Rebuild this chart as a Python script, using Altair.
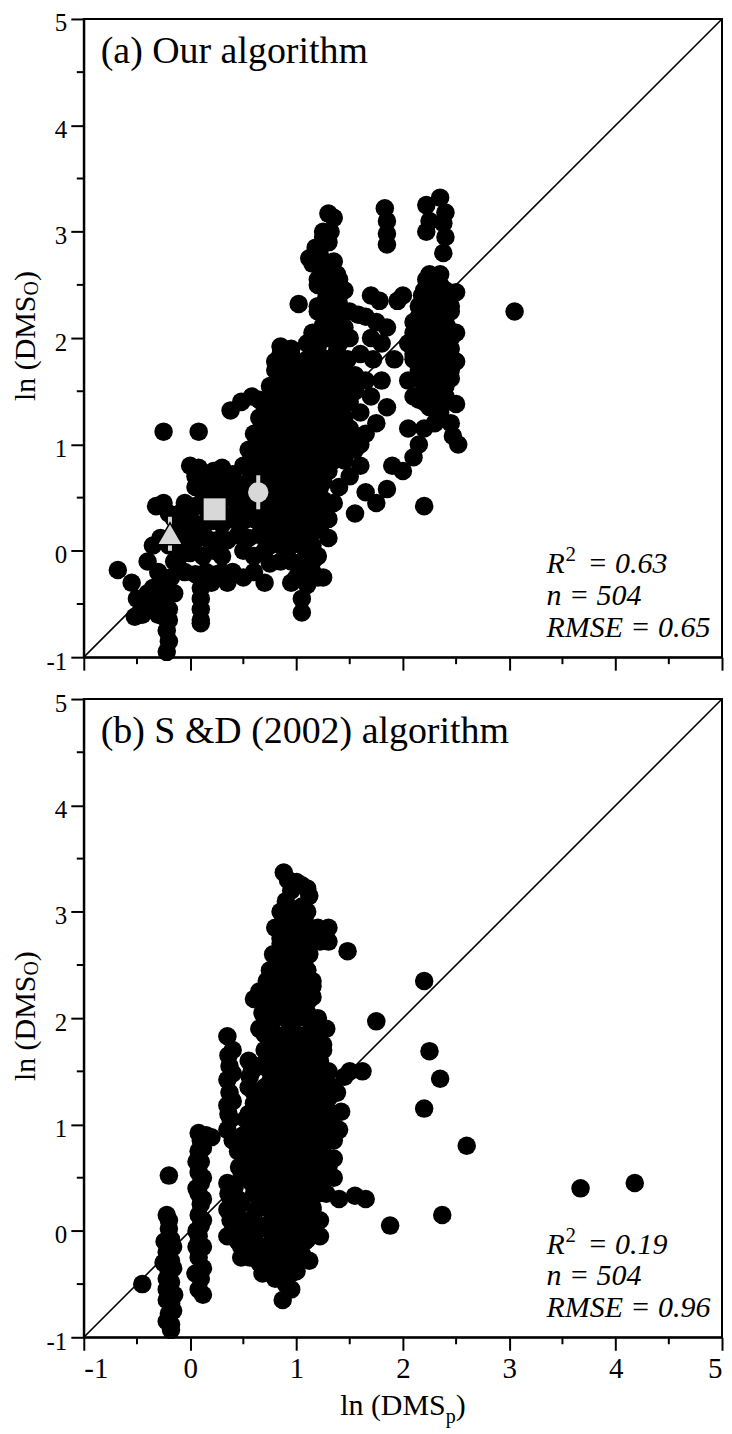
import altair as alt
import pandas as pd

FONT = "Liberation Serif"

# ---------------- data ----------------
A_POINTS = [
    # far left
    (-0.68, -0.18), (-0.55, -0.3), (-0.5, -0.45), (-0.52, -0.62), (-0.45, -0.5), (-0.4, -0.4),
    (-0.35, -0.55), (-0.3, -0.6), (-0.25, -0.45), (-0.2, -0.55), (-0.2, -0.65), (-0.22, -0.75),
    (-0.2, -0.85), (-0.22, -0.95), (-0.15, -0.4), (-0.18, -0.25), (-0.3, -0.2), (-0.4, -0.1),
    (-0.35, 0.05), (-0.28, 0.12), (-0.2, 0.05), (-0.1, -0.05), (-0.32, 0.42), (-0.25, 0.45),
    (-0.2, 0.35), (-0.15, 0.3), (-0.12, 0.2), (-0.25, 1.12), (0.08, 1.12),
    (-0.45, -0.6), (-0.38, -0.48), (-0.3, -0.5), (-0.25, -0.62), (-0.28, -0.3), (-0.35, -0.35),
    (-0.22, -0.3), (-0.15, -0.1), (-0.05, 0.0), (-0.1, 0.35), (-0.05, 0.25), (0.0, 0.15),
    # left cluster
    (0.0, 0.8), (0.08, 0.78), (0.15, 0.72), (0.22, 0.75), (0.05, 0.6), (0.12, 0.55), (0.25, 0.6),
    (-0.05, 0.45), (0.05, 0.42), (0.15, 0.4), (0.28, 0.45), (0.0, 0.3), (0.1, 0.25), (0.2, 0.28),
    (0.3, 0.25), (-0.08, 0.15), (0.05, 0.1), (0.15, 0.12), (0.25, 0.1), (0.0, -0.02), (0.12, -0.05),
    (0.22, 0.0), (0.3, -0.05), (-0.05, -0.2), (0.05, -0.22), (0.15, -0.2), (0.25, -0.22), (0.1, -0.35),
    (0.1, -0.45), (0.1, -0.55), (0.1, -0.65), (0.1, -0.68), (0.2, -0.3),
    (0.35, 0.1), (0.3, 0.35), (0.35, 0.65), (0.2, 0.5), (0.12, 0.65), (0.05, 0.7),
    # left of centre
    (0.3, 0.78), (0.4, 0.72), (0.45, 0.62), (0.5, 0.55), (0.38, 0.5), (0.45, 0.42), (0.55, 0.4),
    (0.6, 0.3), (0.5, 0.28), (0.4, 0.3), (0.45, 0.15), (0.55, 0.12), (0.65, 0.15), (0.5, 0.0),
    (0.6, -0.05), (0.7, 0.0), (0.4, -0.2), (0.5, -0.25), (0.6, -0.2), (0.7, -0.3), (0.75, -0.12),
    (0.35, -0.3), (0.3, -0.2), (0.65, 0.55), (0.7, 0.4),
    (0.38, 1.32), (0.48, 1.4), (0.58, 1.45), (0.65, 1.42), (0.72, 1.3),
    # central mass
    (0.85, 1.92), (0.95, 1.9), (0.8, 1.78), (0.92, 1.75), (1.05, 1.72), (0.88, 1.62), (1.0, 1.58),
    (1.1, 1.6), (0.78, 1.5), (0.9, 1.48), (1.02, 1.45), (1.15, 1.45), (0.7, 1.35), (0.82, 1.38),
    (0.95, 1.32), (1.08, 1.3), (1.2, 1.3), (0.75, 1.2), (0.88, 1.2), (1.0, 1.18), (1.12, 1.15),
    (1.25, 1.18), (0.65, 1.08), (0.78, 1.05), (0.9, 1.05), (1.02, 1.02), (1.15, 1.0), (1.28, 1.0),
    (0.6, 0.95), (0.72, 0.92), (0.85, 0.9), (0.98, 0.88), (1.1, 0.88), (1.22, 0.85), (0.55, 0.82),
    (0.68, 0.8), (0.8, 0.78), (0.92, 0.75), (1.05, 0.75), (1.18, 0.72), (1.3, 0.75), (0.6, 0.68),
    (0.72, 0.65), (0.85, 0.62), (0.98, 0.62), (1.1, 0.6), (1.22, 0.6), (0.75, 0.5), (0.88, 0.5),
    (1.0, 0.48), (1.12, 0.45), (1.25, 0.48), (0.8, 0.38), (0.92, 0.35), (1.05, 0.32), (1.18, 0.3),
    (0.75, 0.25), (0.88, 0.22), (1.0, 0.18), (1.12, 0.15), (1.22, 0.2), (0.82, 0.08), (0.95, 0.05),
    (1.08, 0.02), (1.2, -0.05), (0.9, -0.08), (1.0, -0.12), (1.15, -0.2), (1.25, -0.25), (1.1, -0.32),
    (0.95, -0.3), (1.05, -0.45), (1.3, 0.3), (1.35, 0.85), (1.05, -0.58), (1.02, 2.32),
    (0.85, 1.85), (0.95, 1.85), (0.8, 1.7), (0.9, 1.7), (1.0, 1.7), (1.1, 1.7),
    (0.75, 1.55), (0.85, 1.55), (0.95, 1.55), (1.05, 1.55), (1.15, 1.55),
    (0.7, 1.4), (0.8, 1.4), (0.9, 1.4), (1.0, 1.4), (1.1, 1.4), (1.2, 1.4),
    (0.65, 1.25), (0.75, 1.25), (0.85, 1.25), (0.95, 1.25), (1.05, 1.25), (1.15, 1.25), (1.25, 1.25),
    (0.6, 1.1), (0.7, 1.1), (0.8, 1.1), (0.9, 1.1), (1.0, 1.1), (1.1, 1.1), (1.2, 1.1), (1.3, 1.1),
    (0.55, 0.95), (0.65, 0.95), (0.75, 0.95), (0.85, 0.95), (0.95, 0.95), (1.05, 0.95), (1.15, 0.95),
    (1.25, 0.95), (0.5, 0.8), (0.6, 0.8), (0.7, 0.8), (0.8, 0.8), (0.9, 0.8), (1.0, 0.8), (1.1, 0.8),
    (1.2, 0.8), (1.3, 0.8), (0.55, 0.65), (0.65, 0.65), (0.75, 0.65), (0.85, 0.65), (0.95, 0.65),
    (1.05, 0.65), (1.15, 0.65), (1.25, 0.65), (0.6, 0.5), (0.7, 0.5), (0.8, 0.5), (0.9, 0.5),
    (1.0, 0.5), (1.1, 0.5), (1.2, 0.5), (0.65, 0.35), (0.75, 0.35), (0.85, 0.35), (0.95, 0.35),
    (1.05, 0.35), (1.15, 0.35), (1.25, 0.35), (0.7, 0.2), (0.8, 0.2), (0.9, 0.2), (1.0, 0.2),
    (1.1, 0.2), (1.2, 0.2), (0.75, 0.05), (0.85, 0.05), (0.95, 0.05), (1.05, 0.05), (1.15, 0.05),
    (0.85, -0.1), (0.95, -0.1), (1.05, -0.1), (1.15, -0.1), (1.0, -0.25), (1.1, -0.25), (1.2, -0.25),
    # upper column
    (1.3, 3.17), (1.35, 3.13), (1.25, 2.95), (1.3, 2.9), (1.18, 2.85), (1.12, 2.75), (1.22, 2.78),
    (1.35, 2.72), (1.25, 2.62), (1.38, 2.6), (1.2, 2.5), (1.32, 2.48), (1.45, 2.45), (1.28, 2.38),
    (1.4, 2.32), (1.2, 2.3), (1.35, 2.2), (1.5, 2.25), (1.58, 2.22), (1.25, 2.12), (1.42, 2.1),
    (1.15, 2.05), (1.3, 2.0), (1.5, 2.0), (1.2, 1.92), (1.38, 1.88), (1.48, 1.8), (1.28, 1.8),
    (1.15, 1.75), (1.35, 1.7), (1.45, 1.65), (1.22, 1.62), (1.3, 1.55), (1.42, 1.5), (1.5, 1.4),
    (1.38, 1.38), (1.25, 1.45), (1.45, 1.25), (1.5, 1.15), (1.4, 1.1), (1.35, 1.0), (1.45, 0.98),
    (1.25, 3.0), (1.32, 3.0), (1.2, 2.85), (1.15, 2.7), (1.25, 2.7), (1.2, 2.55), (1.3, 2.55),
    (1.4, 2.55), (1.3, 2.4), (1.4, 2.4), (1.2, 2.25), (1.3, 2.25), (1.4, 2.25), (1.25, 2.1),
    (1.35, 2.1), (1.45, 2.1), (1.1, 1.95), (1.2, 1.95), (1.4, 1.95), (1.1, 1.8), (1.2, 1.8),
    (1.3, 1.8), (1.4, 1.8), (1.15, 1.65), (1.25, 1.65), (1.35, 1.65), (1.55, 1.65), (1.2, 1.5),
    (1.3, 1.5), (1.4, 1.5), (1.5, 1.5), (1.3, 1.35), (1.4, 1.35), (1.35, 1.2), (1.4, 1.05),
    (1.5, 1.05),
    # column near 1.7
    (1.7, 2.4), (1.78, 2.35), (1.65, 2.2), (1.75, 2.15), (1.85, 2.1), (1.7, 2.0), (1.8, 1.95),
    (1.6, 1.85), (1.72, 1.8), (1.65, 1.6), (1.8, 1.6), (1.55, 1.5), (1.7, 1.45), (1.6, 1.3),
    (1.75, 1.2), (1.65, 1.1), (1.6, 1.0), (1.85, 1.35),
    # lower right tail
    (1.55, 0.95), (1.6, 0.8), (1.5, 0.7), (1.65, 0.55), (1.55, 0.35), (1.75, 0.45), (1.9, 0.8),
    (1.85, 0.58), (2.0, 0.75), (2.1, 0.88), (2.05, 1.15), (1.4, 0.6), (1.35, 0.45), (1.3, 0.12),
    (1.45, 0.85), (2.2, 0.42),
    # column at 1.85 top
    (1.83, 3.22), (1.85, 3.1), (1.85, 2.98), (1.85, 2.88),
    # right cluster
    (2.22, 3.25), (2.35, 3.32), (2.4, 3.18), (2.38, 3.08), (2.4, 2.95), (2.25, 3.1), (2.22, 3.0),
    (2.38, 2.8), (2.22, 2.55), (2.3, 2.58), (2.35, 2.5), (2.18, 2.4), (2.28, 2.35), (2.4, 2.38),
    (2.5, 2.43), (2.15, 2.2), (2.25, 2.2), (2.35, 2.22), (2.45, 2.25), (2.1, 2.05), (2.2, 2.05),
    (2.3, 2.1), (2.42, 2.1), (2.5, 2.05), (2.05, 1.95), (2.15, 1.9), (2.25, 1.9), (2.35, 1.95),
    (2.45, 1.9), (2.1, 1.8), (2.2, 1.78), (2.3, 1.75), (2.4, 1.8), (2.5, 1.78), (2.15, 1.65),
    (2.25, 1.62), (2.35, 1.6), (2.45, 1.62), (2.2, 1.5), (2.3, 1.48), (2.4, 1.45), (2.5, 1.38),
    (2.15, 1.42), (2.25, 1.35), (2.35, 1.3), (2.3, 1.2), (2.45, 1.2), (2.2, 1.15), (2.15, 1.0),
    (2.47, 1.08), (2.52, 1.0), (1.95, 2.35), (2.0, 2.4), (1.92, 1.8), (2.05, 1.6), (2.1, 1.45),
    (2.25, 2.6), (2.35, 2.6), (2.2, 2.45), (2.3, 2.45), (2.4, 2.45), (2.15, 2.3), (2.25, 2.3),
    (2.35, 2.3), (2.45, 2.3), (2.1, 2.15), (2.2, 2.15), (2.3, 2.15), (2.4, 2.15), (2.15, 2.0),
    (2.25, 2.0), (2.35, 2.0), (2.45, 2.0), (2.1, 1.85), (2.2, 1.85), (2.3, 1.85), (2.4, 1.85),
    (2.15, 1.7), (2.25, 1.7), (2.35, 1.7), (2.45, 1.7), (2.2, 1.55), (2.3, 1.55), (2.4, 1.55),
    (2.2, 1.4), (2.3, 1.4), (2.4, 1.4),
    (3.05, 2.25),
]

B_POINTS = [
    # column near -0.2
    (-0.2, 0.52), (-0.22, 0.15), (-0.2, 0.02), (-0.18, -0.08), (-0.2, -0.18), (-0.18, -0.28),
    (-0.2, -0.38), (-0.18, -0.48), (-0.2, -0.58), (-0.18, -0.68), (-0.2, -0.78), (-0.18, -0.88),
    (-0.18, -0.93), (-0.25, -0.3), (-0.22, -0.55), (-0.15, -0.6), (-0.24, -0.1), (-0.45, -0.5),
    (-0.22, -0.45), (-0.16, -0.75), (-0.22, -0.85), (-0.16, -0.35), (-0.22, -0.2), (-0.16, -0.15),
    (-0.2, 0.1), (-0.22, -0.65),
    # column near 0.1
    (0.08, 0.92), (0.1, 0.85), (0.08, 0.75), (0.1, 0.65), (0.08, 0.55), (0.1, 0.45), (0.08, 0.35),
    (0.1, 0.25), (0.08, 0.15), (0.1, 0.05), (0.08, -0.05), (0.12, -0.15), (0.08, -0.25),
    (0.1, -0.45), (0.08, -0.55), (0.12, -0.6), (0.05, -0.4), (0.15, 0.9), (0.2, 0.88),
    (0.12, 0.3), (0.06, 0.4), (0.12, 0.5), (0.06, 0.65), (0.12, 0.78), (0.06, 0.0), (0.12, -0.35),
    (0.06, -0.15), (0.12, 0.1),
    # column near 0.4
    (0.35, 1.83), (0.37, 1.55), (0.35, 1.42), (0.37, 1.3), (0.35, 1.18), (0.38, 1.05), (0.35, 0.95),
    (0.4, 0.85), (0.35, 0.45), (0.38, 0.3), (0.35, 0.2), (0.38, 0.1), (0.35, -0.05), (0.42, 0.42),
    (0.45, 0.75), (0.5, 0.9), (0.52, 1.05), (0.48, 0.25), (0.45, -0.1), (0.45, 0.0), (0.48, -0.25),
    (0.45, 0.12), (0.45, 0.3), (0.4, 1.7), (0.36, 1.65), (0.4, 1.48), (0.4, 1.22), (0.36, 1.1),
    (0.4, 0.0), (0.4, 0.15), (0.36, 0.35), (0.46, 0.6), (0.48, 0.5), (0.44, 0.85), (0.5, 0.7),
    (0.48, -0.15),
    # column near 0.6
    (0.55, 1.6), (0.58, 1.5), (0.55, 1.35), (0.6, 1.2), (0.55, 1.1), (0.6, 0.95), (0.58, 0.85),
    (0.62, 0.7), (0.6, 0.55), (0.58, 0.45), (0.62, 0.2), (0.6, 0.05), (0.62, -0.2), (0.65, -0.3),
    (0.58, -0.15), (0.65, 0.35), (0.56, 1.45), (0.6, 1.3), (0.56, 1.0), (0.6, 0.75), (0.56, 0.6),
    (0.6, 0.35), (0.56, 0.1), (0.6, -0.05), (0.56, -0.25),
    # central mass
    (0.88, 3.37), (0.92, 3.3), (0.95, 3.2), (1.0, 3.28), (1.05, 3.25), (1.1, 3.22), (1.12, 3.15),
    (0.9, 3.1), (0.85, 3.0), (0.95, 3.0), (1.05, 3.05), (1.1, 3.0), (1.2, 2.85), (1.22, 2.72),
    (1.15, 2.75), (0.8, 2.85), (0.85, 2.7), (0.95, 2.75), (1.02, 2.85), (0.78, 2.6), (0.88, 2.55),
    (1.0, 2.6), (0.75, 2.45), (0.72, 2.35), (0.82, 2.4), (0.92, 2.4), (1.0, 2.45), (1.1, 2.45),
    (1.15, 2.35), (0.65, 2.25), (0.7, 2.15), (0.78, 2.2), (0.88, 2.25), (0.95, 2.2), (1.05, 2.25),
    (1.15, 2.2), (0.6, 2.18), (0.68, 2.05), (0.78, 2.0), (0.9, 2.05), (1.0, 2.0), (1.1, 2.05),
    (1.2, 1.95), (1.28, 1.9), (0.65, 1.9), (0.75, 1.85), (0.85, 1.8), (0.95, 1.85), (1.05, 1.8),
    (1.15, 1.75), (1.25, 1.75), (0.7, 1.7), (0.82, 1.65), (0.92, 1.65), (1.02, 1.6), (1.12, 1.6),
    (1.22, 1.6), (0.65, 1.55), (0.75, 1.5), (0.88, 1.5), (0.98, 1.45), (1.08, 1.45), (1.18, 1.45),
    (1.3, 1.5), (0.7, 1.35), (0.8, 1.35), (0.92, 1.3), (1.02, 1.3), (1.12, 1.3), (1.22, 1.3),
    (1.35, 1.35), (0.72, 1.2), (0.85, 1.2), (0.95, 1.15), (1.05, 1.15), (1.15, 1.15), (1.25, 1.15),
    (0.68, 1.05), (0.78, 1.05), (0.9, 1.0), (1.0, 1.0), (1.1, 1.0), (1.2, 1.0), (1.3, 1.02),
    (0.7, 0.9), (0.82, 0.88), (0.92, 0.85), (1.02, 0.85), (1.12, 0.85), (1.22, 0.85), (1.35, 0.85),
    (0.72, 0.75), (0.85, 0.72), (0.95, 0.7), (1.05, 0.7), (1.15, 0.7), (1.25, 0.7), (0.7, 0.6),
    (0.8, 0.58), (0.92, 0.55), (1.02, 0.55), (1.12, 0.55), (1.22, 0.55), (0.75, 0.45), (0.88, 0.42),
    (0.98, 0.4), (1.08, 0.4), (1.18, 0.4), (1.28, 0.35), (0.72, 0.3), (0.82, 0.28), (0.95, 0.25),
    (1.05, 0.25), (1.15, 0.22), (0.78, 0.15), (0.9, 0.12), (1.0, 0.1), (1.1, 0.08), (1.22, 0.1),
    (0.75, 0.0), (0.88, -0.02), (0.98, -0.05), (1.1, -0.08), (0.7, -0.15), (0.82, -0.18),
    (0.95, -0.2), (1.05, -0.22), (0.75, -0.3), (0.88, -0.35), (1.0, -0.38), (0.8, -0.45),
    (0.9, -0.5), (0.87, -0.65), (0.95, -0.55), (1.12, -0.28), (0.68, -0.4),
    (1.3, 2.85), (1.3, 2.72), (1.38, 1.3), (1.42, 1.12), (1.4, 0.95), (1.35, 0.68), (1.3, 0.6),
    (1.35, 0.5), (1.4, 0.3), (1.22, -0.05), (1.45, 1.45),
    (0.88, 2.9), (0.98, 2.9), (1.08, 2.9), (0.85, 2.75), (0.95, 2.75), (1.05, 2.75), (1.15, 2.75),
    (0.82, 2.6), (0.92, 2.6), (1.02, 2.6), (1.12, 2.6), (0.8, 2.45), (0.9, 2.45), (1.0, 2.45),
    (1.1, 2.45), (0.75, 2.3), (0.85, 2.3), (0.95, 2.3), (1.05, 2.3), (1.15, 2.3), (0.7, 2.15),
    (0.8, 2.15), (0.9, 2.15), (1.0, 2.15), (1.1, 2.15), (0.7, 2.0), (0.8, 2.0), (0.9, 2.0),
    (1.0, 2.0), (1.1, 2.0), (1.2, 2.0), (0.7, 1.85), (0.8, 1.85), (0.9, 1.85), (1.0, 1.85),
    (1.1, 1.85), (1.2, 1.85), (0.75, 1.7), (0.85, 1.7), (0.95, 1.7), (1.05, 1.7), (1.15, 1.7),
    (1.25, 1.7), (0.7, 1.55), (0.8, 1.55), (0.9, 1.55), (1.0, 1.55), (1.1, 1.55), (1.2, 1.55),
    (0.75, 1.4), (0.85, 1.4), (0.95, 1.4), (1.05, 1.4), (1.15, 1.4), (1.25, 1.4), (0.7, 1.25),
    (0.8, 1.25), (0.9, 1.25), (1.0, 1.25), (1.1, 1.25), (1.2, 1.25), (1.3, 1.25), (0.65, 1.1),
    (0.75, 1.1), (0.85, 1.1), (0.95, 1.1), (1.05, 1.1), (1.15, 1.1), (1.25, 1.1), (1.35, 1.1),
    (0.7, 0.95), (0.8, 0.95), (0.9, 0.95), (1.0, 0.95), (1.1, 0.95), (1.2, 0.95), (1.3, 0.95),
    (0.65, 0.8), (0.75, 0.8), (0.85, 0.8), (0.95, 0.8), (1.05, 0.8), (1.15, 0.8), (1.25, 0.8),
    (0.7, 0.65), (0.8, 0.65), (0.9, 0.65), (1.0, 0.65), (1.1, 0.65), (1.2, 0.65), (1.3, 0.65),
    (0.65, 0.5), (0.75, 0.5), (0.85, 0.5), (0.95, 0.5), (1.05, 0.5), (1.15, 0.5), (1.25, 0.5),
    (0.7, 0.35), (0.8, 0.35), (0.9, 0.35), (1.0, 0.35), (1.1, 0.35), (1.2, 0.35), (0.75, 0.2),
    (0.85, 0.2), (0.95, 0.2), (1.05, 0.2), (1.15, 0.2), (0.7, 0.05), (0.8, 0.05), (0.9, 0.05),
    (1.0, 0.05), (1.1, 0.05), (0.78, -0.1), (0.88, -0.1), (0.98, -0.1), (1.08, -0.1), (0.8, -0.25),
    (0.9, -0.25), (1.0, -0.25), (0.85, -0.4), (0.95, -0.4),
    # right side
    (1.48, 2.63), (1.75, 1.97), (2.2, 2.35), (2.25, 1.69), (2.35, 1.43), (2.2, 1.15), (2.37, 0.15),
    (2.6, 0.8), (1.88, 0.05), (1.55, 0.33), (1.65, 0.3), (1.5, 1.5), (1.62, 1.5), (3.67, 0.4),
    (4.18, 0.45),
]

GRAY_X = [-0.19, 0.23, 0.64]
GRAY_Y = [0.16, 0.39, 0.55]
GRAY_ERR = [0.16, 0.0, 0.16]

TICKS = [-1, 0, 1, 2, 3, 4, 5]
MINOR = [-0.5, 0.5, 1.5, 2.5, 3.5, 4.5]

TITLES = ["(a) Our algorithm", "(b) S &D (2002) algorithm"]
R2 = ["0.63", "0.19"]
N = ["504", "504"]
RMSE = ["0.65", "0.96"]

W = H = 640
xs = alt.Scale(domain=[-1, 5], nice=False, zero=False)
ys = alt.Scale(domain=[-1, 5], nice=False, zero=False)
ONE = pd.DataFrame({"k": [0]})

common_axis = dict(
    values=TICKS, tickSize=13, tickWidth=2, tickColor="black", domainColor="black",
    domainWidth=2, grid=False, labelFont=FONT, labelColor="black",
    labelExpr="'' + datum.value",
)


def x_axis(show):
    if show:
        return alt.Axis(labels=True, labelFontSize=29, labelPadding=4, **common_axis)
    return alt.Axis(labels=False, **common_axis)


def y_axis():
    return alt.Axis(labelFontSize=25, labelPadding=4, labelOffset=4, **common_axis)


def text(t, x, y, size, italic=False, angle=0):
    return alt.Chart(ONE).mark_text(
        text=t, font=FONT, fontSize=size, fontStyle="italic" if italic else "normal",
        align="left", baseline="alphabetic", color="black", angle=angle,
    ).encode(x=alt.value(x), y=alt.value(y))


# widths (em) of Liberation Serif glyphs, used to chain the pieces of the axis titles
def width(s, size):
    em = {"l": 0.278, "n": 0.5, " ": 0.25, "(": 0.333, ")": 0.333, "D": 0.722, "M": 0.889,
          "S": 0.556, "O": 0.722, "p": 0.5}
    return sum(em[c] for c in s) * size


def y_title():
    main, sub, close = "ln (DMS", "O", ")"
    total = width(main, 30) + width(sub, 20) + width(close, 30)
    y0 = 318 + total / 2
    y1 = y0 - width(main, 30)
    y2 = y1 - width(sub, 20)
    return [text(main, -49, y0, 30, angle=270), text(sub, -46, y1, 20, angle=270),
            text(close, -49, y2, 30, angle=270)]


def x_title():
    main, sub, close = "ln (DMS", "p", ")"
    total = width(main, 30) + width(sub, 20) + width(close, 30)
    x0 = 320 - total / 2
    x1 = x0 + width(main, 30)
    x2 = x1 + width(sub, 20)
    return [text(main, x0, H + 78, 30), text(sub, x1, H + 86, 20), text(close, x2, H + 78, 30)]


def panel(i, points, show_x):
    ax = x_axis(show_x)
    ay = y_axis()
    X = lambda f: alt.X(f, scale=xs, axis=ax, title=None)
    Y = lambda f: alt.Y(f, scale=ys, axis=ay, title=None)

    diag = alt.Chart(pd.DataFrame({"x": [-1], "y": [-1], "x2": [5], "y2": [5]})).mark_rule(
        color="black", strokeWidth=1.6
    ).encode(x=X("x:Q"), y=Y("y:Q"), x2="x2:Q", y2="y2:Q")

    df = pd.DataFrame(points, columns=["x", "y"])
    pts = alt.Chart(df).mark_circle(size=345, color="black", opacity=1).encode(
        x=X("x:Q"), y=Y("y:Q"))

    xminor = alt.Chart(pd.DataFrame({"x": MINOR})).mark_rule(color="black", strokeWidth=2).encode(
        x=X("x:Q"), y=alt.value(H), y2=alt.value(H + 7))
    yminor = alt.Chart(pd.DataFrame({"y": MINOR})).mark_rule(color="black", strokeWidth=2).encode(
        y=Y("y:Q"), x=alt.value(0), x2=alt.value(-7))

    layers = [diag, pts, xminor, yminor]

    if i == 0:
        gdf = pd.DataFrame({"x": GRAY_X, "y": GRAY_Y,
                            "lo": [a - b for a, b in zip(GRAY_Y, GRAY_ERR)],
                            "hi": [a + b for a, b in zip(GRAY_Y, GRAY_ERR)]})
        err = alt.Chart(gdf[gdf["hi"] > gdf["lo"]]).mark_rule(color="#d8d8d8", strokeWidth=4).encode(
            x=X("x:Q"), y=Y("lo:Q"), y2="hi:Q")
        tri = alt.Chart(gdf.iloc[[0]]).mark_point(
            shape="triangle-up", filled=True, fill="#d8d8d8", stroke="black", strokeWidth=1.5,
            size=650, opacity=1).encode(x=X("x:Q"), y=Y("y:Q"))
        sq = alt.Chart(gdf.iloc[[1]]).mark_square(size=484, color="#d8d8d8", opacity=1).encode(
            x=X("x:Q"), y=Y("y:Q"))
        ci = alt.Chart(gdf.iloc[[2]]).mark_circle(size=415, color="#d8d8d8", opacity=1).encode(
            x=X("x:Q"), y=Y("y:Q"))
        layers += [err, tri, sq, ci]

    layers += [
        text(TITLES[i], 17, 44, 38),
        text("R", 464, 556, 30, True),
        text("2", 483, 544, 21),
        text("= " + R2[i], 505, 556, 30, True),
        text("n = " + N[i], 464, 588, 30, True),
        text("RMSE = " + RMSE[i], 464, 620, 30, True),
    ]
    layers += y_title()
    if show_x:
        layers += x_title()
    return alt.layer(*layers).properties(width=W, height=H)


chart = alt.vconcat(panel(0, A_POINTS, False), panel(1, B_POINTS, True),
                    spacing=42, bounds="flush").properties(
    padding={"left": 2, "top": 0, "right": 0, "bottom": 0}
).configure_view(stroke="black", strokeWidth=2)

chart.save("out.html", embed_options={"renderer": "svg", "actions": False})
